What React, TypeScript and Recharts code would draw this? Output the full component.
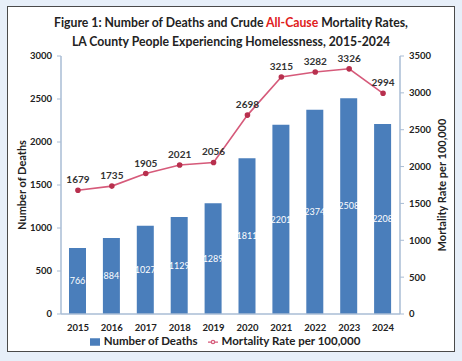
import { ComposedChart, Bar, Line, XAxis, YAxis, Legend, LabelList } from 'recharts';

const years = ['2015', '2016', '2017', '2018', '2019', '2020', '2021', '2022', '2023', '2024'];
const deaths = [766, 884, 1027, 1129, 1289, 1811, 2201, 2374, 2508, 2208];
const rates = [1679, 1735, 1905, 2021, 2056, 2698, 3215, 3282, 3326, 2994];
const leftTicks = [0, 500, 1000, 1500, 2000, 2500, 3000];
const rightTicks = [0, 500, 1000, 1500, 2000, 2500, 3000, 3500];

const data = years.map((year, i) => ({ year, deaths: deaths[i], rate: rates[i] }));

const FONT = 'Lato, "Open Sans", sans-serif';
const BLUE = '#4a7ebb';
const PINK = '#d65a7a';
const AXIS = '#a9bcd4';

export default function App() {
  return (
    <div style={{ position: 'absolute', left: 0, top: 0, width: 462, height: 361, background: '#e7eff9', fontFamily: FONT }}>
      <div style={{ position: 'absolute', left: 7, top: 6, width: 446, height: 344, background: '#fff', border: '1.5px solid #4a4a4a' }} />
      <div style={{ position: 'absolute', left: 0, top: 13, width: 462, textAlign: 'center', fontWeight: 700, fontSize: 13.6, lineHeight: '19px', color: '#222', transform: 'scaleX(0.9)' }}>
        Figure 1: Number of Deaths and Crude <span style={{ color: '#e02020' }}>All-Cause</span> Mortality Rates,
        <br />
        LA County People Experiencing Homelessness, 2015-2024
      </div>
      <div style={{ position: 'absolute', left: 0, top: 0 }}>
        <ComposedChart
          width={462}
          height={361}
          data={data}
          margin={{ top: 56, right: 12, bottom: 9, left: 10 }}
        >
          <XAxis
            dataKey="year"
            height={20}
            axisLine={{ stroke: AXIS, strokeWidth: 1.5 }}
            tickLine={false}
            tick={{ fontSize: 9.5, fontWeight: 700, fill: '#222', fontFamily: FONT }}
            tickMargin={4}
          />
          <YAxis
            yAxisId="left"
            width={51}
            domain={[0, 3000]}
            ticks={leftTicks}
            axisLine={{ stroke: AXIS, strokeWidth: 1.5 }}
            tickLine={{ stroke: AXIS }}
            tickSize={4}
            tick={{ fontSize: 9.5, fontWeight: 700, fill: '#222', fontFamily: FONT }}
            tickMargin={5}
            label={{ value: 'Number of Deaths', angle: -90, position: 'insideLeft', offset: 12, style: { fontSize: 11, fontWeight: 700, fill: '#222', fontFamily: FONT, textAnchor: 'middle' } }}
          />
          <YAxis
            yAxisId="right"
            orientation="right"
            width={50}
            domain={[0, 3500]}
            ticks={rightTicks}
            axisLine={{ stroke: AXIS, strokeWidth: 1.5 }}
            tickLine={{ stroke: AXIS }}
            tickSize={4}
            tick={{ fontSize: 9.5, fontWeight: 700, fill: '#222', fontFamily: FONT }}
            tickMargin={5}
            label={{ value: 'Mortality Rate per 100,000', angle: -90, position: 'insideRight', offset: 8, style: { fontSize: 11, fontWeight: 700, fill: '#222', fontFamily: FONT, textAnchor: 'middle' } }}
          />
          <Legend
            height={18}
            iconSize={10}
            itemSorter="dataKey"
            wrapperStyle={{ fontSize: 11.5, fontWeight: 700, color: '#222', fontFamily: FONT }}
            formatter={(value) => <span style={{ color: '#222' }}>{value}</span>}
          />
          <Bar yAxisId="left" dataKey="deaths" name="Number of Deaths" fill={BLUE} barSize={17} isAnimationActive={false} legendType="rect">
            <LabelList dataKey="deaths" position="center" style={{ fill: '#fff', fontSize: 9, fontFamily: FONT }} />
          </Bar>
          <Line
            yAxisId="right"
            dataKey="rate"
            name="Mortality Rate per 100,000"
            stroke={PINK}
            strokeWidth={1.6}
            dot={{ r: 2, fill: '#b8304e', stroke: '#b8304e' }}
            isAnimationActive={false}
          >
            <LabelList dataKey="rate" position="top" offset={7} style={{ fill: '#333', fontSize: 10, fontWeight: 700, fontFamily: FONT }} />
          </Line>
        </ComposedChart>
      </div>
    </div>
  );
}
